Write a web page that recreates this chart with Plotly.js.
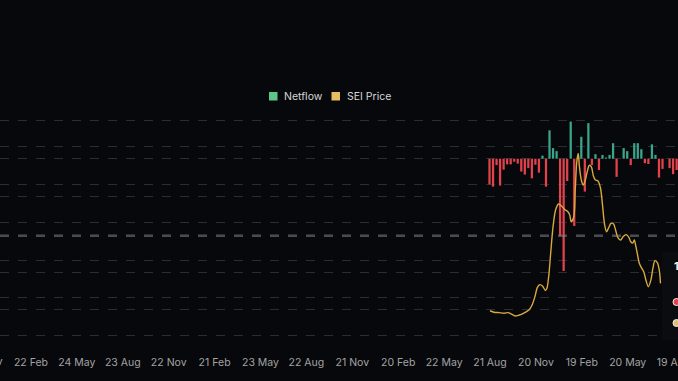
<!DOCTYPE html>
<html>
<head>
<meta charset="utf-8">
<script src="https://cdn.plot.ly/plotly-3.0.1.min.js"></script>
<style>
  html, body { margin: 0; padding: 0; background: #07080c; }
  #chart { width: 678px; height: 381px; }
</style>
</head>
<body>
<div id="chart"></div>
<script>
// Weekly netflow (arbitrary units, hidden axis)
const flowDates = [
  '2023-08-20','2023-08-27','2023-09-03','2023-09-10','2023-09-17','2023-09-24',
  '2023-10-01','2023-10-08','2023-10-15','2023-10-22','2023-10-29',
  '2023-11-05','2023-11-12','2023-11-19','2023-11-26',
  '2023-12-03','2023-12-10','2023-12-17','2023-12-24','2023-12-31',
  '2024-01-07','2024-01-14','2024-01-21','2024-01-28',
  '2024-02-04','2024-02-11','2024-02-18','2024-02-25',
  '2024-03-03','2024-03-10','2024-03-17','2024-03-24','2024-03-31',
  '2024-04-07','2024-04-14','2024-04-21','2024-04-28',
  '2024-05-05','2024-05-12','2024-05-19','2024-05-26',
  '2024-06-02','2024-06-09','2024-06-16','2024-06-23','2024-06-30',
  '2024-07-07','2024-07-14','2024-07-21','2024-07-28',
  '2024-08-04','2024-08-11','2024-08-18','2024-08-25'
];
const netflow = [
  -6.8, -7.4, -1.7, -7.1, -2.9, -1.5, -1.5, -0.8, -1.3, -3.4,
  -4.2, -2.5, -5.2, -1.6, -3.7, 0.8, -7.4, 7.5, 2.8, 2.0,
  -20.4, -29.7, -5.9, 9.8, -17.8, 0, 5.8, -8.7, 9.4, -1.7,
  1.2, -3.0, 1.0, 0.3, 1.0, 4.1, -4.8, 0, 2.8, 2.0,
  -1.7, 4.1, 4.1, 2.5, -1.2, -1.4, 3.8, 1.0, -5.0, -2.7,
  0, -2.5, -4.1, -3.0
];

// SEI price (USD)
const priceDates = [
  '2023-08-21','2023-08-29','2023-09-08','2023-09-18','2023-09-26','2023-10-02',
  '2023-10-10','2023-10-17','2023-10-27','2023-11-06','2023-11-12','2023-11-18',
  '2023-11-23','2023-11-28','2023-12-03','2023-12-09','2023-12-12','2023-12-16',
  '2023-12-19','2023-12-24','2023-12-29','2024-01-04','2024-01-10','2024-01-16',
  '2024-01-22','2024-01-26','2024-01-29','2024-02-03','2024-02-06','2024-02-09',
  '2024-02-12','2024-02-14','2024-02-18','2024-02-22','2024-02-26','2024-03-01',
  '2024-03-05','2024-03-09','2024-03-13','2024-03-17','2024-03-22','2024-03-27',
  '2024-03-31','2024-04-04','2024-04-08','2024-04-12','2024-04-17','2024-04-22',
  '2024-04-26','2024-04-30','2024-05-06','2024-05-11','2024-05-17','2024-05-22',
  '2024-05-26','2024-05-30','2024-06-02','2024-06-05','2024-06-08','2024-06-12',
  '2024-06-17','2024-06-21','2024-06-25','2024-06-30','2024-07-05','2024-07-09',
  '2024-07-13','2024-07-18','2024-07-22','2024-07-24'
];
const price = [
  0.132, 0.124, 0.122, 0.119, 0.122, 0.115,
  0.104, 0.108, 0.119, 0.136, 0.160, 0.206,
  0.256, 0.270, 0.263, 0.239, 0.252, 0.330,
  0.427, 0.577, 0.665, 0.697, 0.686, 0.668,
  0.657, 0.639, 0.603, 0.628, 0.771, 0.919,
  0.964, 0.902, 0.824, 0.797, 0.824, 0.871,
  0.902, 0.893, 0.845, 0.824, 0.819, 0.782,
  0.692, 0.591, 0.550, 0.570, 0.595, 0.591,
  0.559, 0.522, 0.506, 0.525, 0.535, 0.522,
  0.497, 0.490, 0.506, 0.475, 0.435, 0.383,
  0.356, 0.337, 0.295, 0.259, 0.295, 0.357,
  0.397, 0.385, 0.339, 0.277
];

const legendLabels = ['Netflow', 'SEI Price'];

const GREEN = '#3aa58a', RED = '#e2424c', GOLD = '#d9a93c';
const W = 678, H = 381, T = 112, B = 33;
const plotH = H - T - B;
const py = Y => (H - B - Y) / plotH;   // pixel -> paper y
const px = X => X / W;                 // pixel -> paper x

const traces = [
  {
    type: 'bar', x: flowDates, y: netflow, yaxis: 'y',
    marker: { color: netflow.map(v => v >= 0 ? GREEN : RED), line: { width: 0 } },
    showlegend: false, hoverinfo: 'skip'
  },
  {
    type: 'scatter', mode: 'lines', x: priceDates, y: price, yaxis: 'y2',
    line: { color: GOLD, width: 1.4, shape: 'spline', smoothing: 0.8 },
    showlegend: false, hoverinfo: 'skip'
  }
];

const gridColor = '#2a2d33';
const layout = {
  width: W, height: H,
  margin: { l: 0, r: 0, t: T, b: B, pad: 0 },
  paper_bgcolor: '#07080c', plot_bgcolor: '#07080c',
  bargap: 0.36,
  showlegend: false,
  font: { family: 'Inter, "Noto Sans", sans-serif', color: '#a3a3a3', size: 10 },
  xaxis: {
    type: 'date',
    range: ['2020-12-22 13:00', '2024-08-27 17:00'],
    tick0: '2021-02-22', dtick: 91 * 86400000,
    tickformat: '%d %b',
    showgrid: false, zeroline: false, showline: false,
    ticks: '', ticklabelstandoff: 6, ticklabeloverflow: 'allow',
    tickfont: { size: 10.5, color: '#a3a3a3' }
  },
  yaxis: {
    range: [-50.08, 12.35], dtick: 10, tick0: 0,
    showticklabels: false, zeroline: false,
    showgrid: true, gridcolor: gridColor, griddash: 'dash', gridwidth: 1
  },
  yaxis2: {
    overlaying: 'y', side: 'right',
    range: [-0.0651, 1.1836], dtick: 0.2, tick0: 0,
    showticklabels: false, zeroline: false,
    showgrid: true, gridcolor: gridColor, griddash: 'dash', gridwidth: 1
  },
  shapes: [
    // hover crosshair
    { type: 'line', xref: 'paper', yref: 'paper', x0: 0, x1: 1, y0: py(236), y1: py(236),
      line: { color: '#8f8f8f', width: 1, dash: 'dash' } },
    // partial tooltip box at right edge
    { type: 'rect', xref: 'paper', yref: 'paper', x0: px(662), x1: px(690), y0: py(340), y1: py(252),
      fillcolor: '#0a0c10', line: { width: 0 } },
    { type: 'circle', xref: 'paper', yref: 'paper', x0: px(673), x1: px(680), y0: py(305.5), y1: py(298.5),
      fillcolor: '#e2424c', line: { color: '#f0f0f0', width: 1 } },
    { type: 'circle', xref: 'paper', yref: 'paper', x0: px(673), x1: px(680), y0: py(326.5), y1: py(319.5),
      fillcolor: '#e0c070', line: { color: '#f0f0f0', width: 1 } },
    // legend swatches
    { type: 'rect', xref: 'paper', yref: 'paper', x0: px(269), x1: px(277.5), y0: py(100.5), y1: py(92),
      fillcolor: '#5ec48c', line: { width: 0 } },
    { type: 'rect', xref: 'paper', yref: 'paper', x0: px(331.5), x1: px(340), y0: py(100.5), y1: py(92),
      fillcolor: '#e6bd5f', line: { width: 0 } }
  ],
  annotations: [
    { xref: 'paper', yref: 'paper', x: px(281.5), y: py(96.5), xanchor: 'left', yanchor: 'middle',
      text: legendLabels[0], showarrow: false, font: { size: 10.5, color: '#d6d6d6' } },
    { xref: 'paper', yref: 'paper', x: px(344.5), y: py(96.5), xanchor: 'left', yanchor: 'middle',
      text: legendLabels[1], showarrow: false, font: { size: 10.5, color: '#d6d6d6' } },
    { xref: 'paper', yref: 'paper', x: px(676), y: py(266), xanchor: 'center', yanchor: 'middle',
      text: '<b>1</b>', showarrow: false, font: { size: 11, color: '#f2f2f2' } },
    { xref: 'paper', yref: 'paper', x: px(-15), y: py(361), xanchor: 'center', yanchor: 'middle',
      text: '23 Nov', showarrow: false, font: { size: 10.5, color: '#a3a3a3' } }
  ]
};

Plotly.newPlot('chart', traces, layout, { displayModeBar: false, staticPlot: true });
</script>
</body>
</html>
